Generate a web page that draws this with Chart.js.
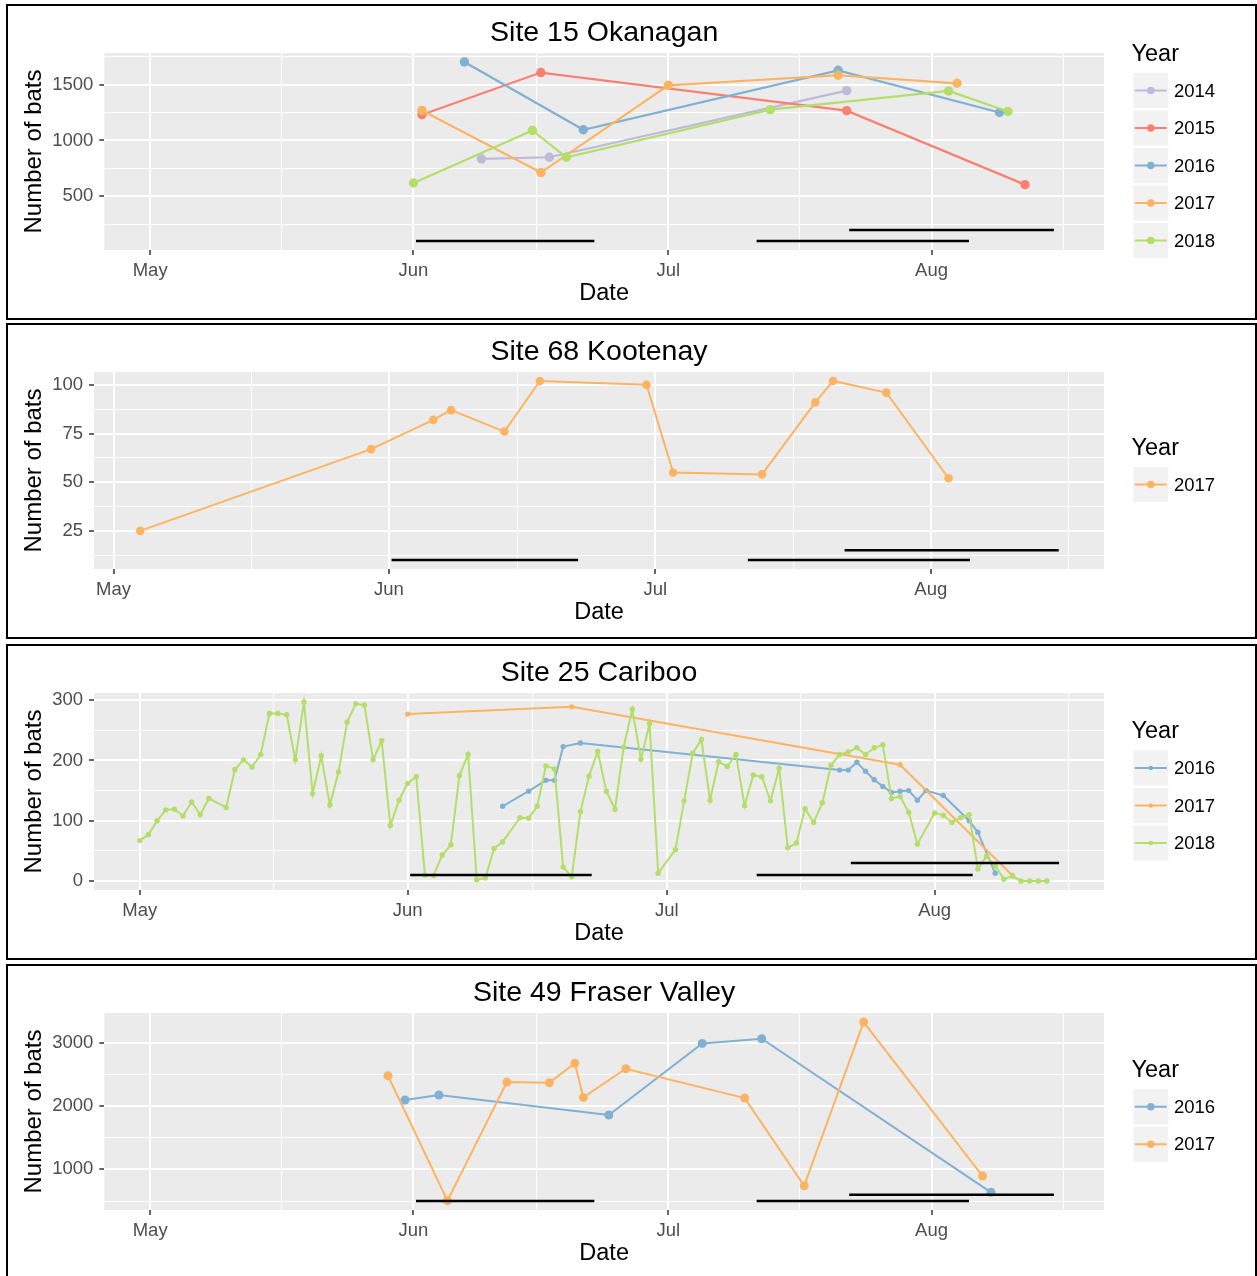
<!DOCTYPE html>
<html>
<head>
<meta charset="utf-8">
<script src="https://cdn.jsdelivr.net/npm/chart.js@4.4.1/dist/chart.umd.min.js"></script>
<style>
  html, body { margin: 0; padding: 0; background: #fff; width: 1257px; height: 1276px; overflow: hidden; }
  .panel { position: absolute; left: 6px; width: 1251px; height: 316px; border: 2px solid #000; box-sizing: border-box; }
  .panel canvas { position: absolute; left: 0; top: 0; }
</style>
</head>
<body>
<div class="panel" style="top:4px"><canvas id="okanagan" width="1247" height="312"></canvas></div>
<div class="panel" style="top:323px"><canvas id="kootenay" width="1247" height="312"></canvas></div>
<div class="panel" style="top:644px"><canvas id="cariboo" width="1247" height="312"></canvas></div>
<div class="panel" style="top:964px"><canvas id="fraser" width="1247" height="312"></canvas></div>
<script>
const FONT = "'Liberation Sans', Arial, sans-serif";

// x values are day of year (May 1 = 121, Jun 1 = 152, Jul 1 = 182, Aug 1 = 213)
const monthTicks = [121, 152, 182, 213];
const monthLabels = ["May", "Jun", "Jul", "Aug"];
const yearColors = { 2014: "#BEBADA", 2015: "#FB8072", 2016: "#80B1D3", 2017: "#FDB462", 2018: "#B3DE69" };

// black period bars (same dates in every panel)
const periodStart = [152.3, 192.4, 203.3];
const periodEnd = [173.3, 217.4, 227.4];

// Site 15 Okanagan
const okanaganDays2014 = [160, 168, 203];
const okanaganBats2014 = [836, 850, 1446];
const okanaganDays2015 = [153, 167, 203, 224];
const okanaganBats2015 = [1231, 1608, 1267, 605];
const okanaganDays2016 = [158, 172, 202, 221];
const okanaganBats2016 = [1703, 1096, 1628, 1251];
const okanaganDays2017 = [153, 167, 182, 202, 216];
const okanaganBats2017 = [1269, 713, 1494, 1584, 1512];
const okanaganDays2018 = [152, 166, 170, 194, 215, 222];
const okanaganBats2018 = [620, 1090, 850, 1276, 1443, 1260];
const okanaganPeriodY = [100, 100, 200];
const okanaganYTicks = [500, 1000, 1500];

// Site 68 Kootenay
const kootenayDays2017 = [124, 150, 157, 159, 165, 169, 181, 184, 194, 200, 202, 208, 215];
const kootenayBats2017 = [25, 67, 82, 87, 76, 102, 100, 55, 54, 91, 102, 96, 52];
const kootenayPeriodY = [10, 10, 15];
const kootenayYTicks = [25, 50, 75, 100];

// Site 25 Cariboo
const caribooDays2016 = [163, 166, 168, 169, 170, 172, 202, 203, 204, 205, 206, 207, 208, 209, 210, 211, 212, 214, 217, 218, 220];
const caribooBats2016 = [124, 149, 167, 167, 223, 229, 184, 184, 197, 182, 168, 157, 147, 149, 150, 134, 150, 142, 100, 81, 13];
const caribooDays2017 = [152, 171, 209, 222];
const caribooBats2017 = [277, 289, 193, 9];
const caribooDays2018 = [121, 122, 123, 124, 125, 126, 127, 128, 129, 131, 132, 133, 134, 135, 136, 137, 138, 139, 140,
  141, 142, 143, 144, 145, 146, 147, 148, 149, 150, 151, 152, 153, 154, 155, 156, 157, 158, 159, 160, 161, 162, 163,
  165, 166, 167, 168, 169, 170, 171, 172, 173, 174, 175, 176, 177, 178, 179, 180, 181, 183, 184, 185, 186, 187, 188,
  189, 190, 191, 192, 193, 194, 195, 196, 197, 198, 199, 200, 201, 202, 203, 204, 205, 206, 207, 208, 209, 210, 211,
  213, 214, 215, 216, 217, 218, 219, 220, 221, 222, 223, 224, 225, 226];
const caribooBats2018 = [67, 77, 100, 118, 119, 108, 131, 110, 137, 122, 185, 201, 189, 210, 278, 278, 276, 201, 297,
  145, 208, 126, 181, 264, 294, 292, 201, 233, 92, 134, 162, 173, 10, 9, 43, 60, 175, 210, 2, 5, 54, 65,
  105, 104, 124, 191, 186, 23, 7, 115, 174, 215, 149, 119, 222, 285, 202, 261, 13, 52, 133, 212, 235, 134, 198,
  190, 210, 125, 176, 173, 133, 187, 55, 63, 120, 97, 130, 192, 210, 214, 221, 210, 221, 226, 137, 140, 114, 61,
  113, 109, 97, 105, 110, 20, 41, 25, 3, 8, 0, 0, 0, 0];
const caribooPeriodY = [10, 10, 30];
const caribooYTicks = [0, 100, 200, 300];

// Site 49 Fraser Valley
const fraserDays2016 = [151, 155, 175, 186, 193, 220];
const fraserBats2016 = [2095, 2174, 1858, 2990, 3063, 637];
const fraserDays2017 = [149, 156, 163, 168, 171, 172, 177, 191, 198, 205, 219];
const fraserBats2017 = [2479, 504, 2379, 2368, 2675, 2137, 2589, 2126, 741, 3327, 894];
const fraserPeriodY = [500, 500, 600];
const fraserYTicks = [1000, 2000, 3000];

// ggplot-style minor breaks halfway between the major ones
function minorBreaks(major) {
  const step = major[1] - major[0];
  return major.map(m => m - step / 2).concat([major[major.length - 1] + step / 2]);
}

// grey panel + title + "Year" legend
const panelDecor = {
  id: "panelDecor",
  beforeDraw(chart) {
    const { ctx, chartArea: a } = chart;
    ctx.save();
    ctx.fillStyle = "#EBEBEB";
    ctx.fillRect(a.left, a.top, a.right - a.left, a.bottom - a.top);
    ctx.restore();
  },
  afterDraw(chart, args, opts) {
    const { ctx, chartArea: a } = chart;
    ctx.save();
    ctx.fillStyle = "#000";
    ctx.textBaseline = "middle";
    ctx.textAlign = "center";
    ctx.font = "28.5px " + FONT;
    ctx.fillText(opts.title, (a.left + a.right) / 2, 27);

    const n = opts.series.length, step = 37.5;
    const k0 = 145.5 - (n - 1) / 2 * step + 14;
    ctx.textAlign = "left";
    ctx.font = "23.5px " + FONT;
    ctx.fillText("Year", 1123.5, k0 - 36);
    ctx.font = "18.5px " + FONT;
    opts.series.forEach((s, i) => {
      const cy = k0 + i * step, kx = 1125.3;
      const col = yearColors[s.year];
      ctx.fillStyle = "#F2F2F2";
      ctx.fillRect(kx, cy - 17.5, 35, 35);
      ctx.strokeStyle = col;
      ctx.lineWidth = opts.lineWidth;
      ctx.beginPath();
      ctx.moveTo(kx + 1.5, cy);
      ctx.lineTo(kx + 33.5, cy);
      ctx.stroke();
      ctx.fillStyle = col;
      ctx.beginPath();
      ctx.arc(kx + 17.5, cy, opts.keyDot, 0, Math.PI * 2);
      ctx.fill();
      ctx.fillStyle = "#000";
      ctx.fillText(String(s.year), 1166, cy + 1);
    });
    ctx.restore();
  }
};

function makePanel(id, p) {
  const isMajorY = v => p.yTicks.includes(v);
  const isMajorX = v => monthTicks.includes(v);

  const datasets = [];
  periodStart.forEach((s, i) => {
    datasets.push({
      data: [{ x: s, y: p.periodY[i] }, { x: periodEnd[i], y: p.periodY[i] }],
      borderColor: "#000", borderWidth: 2.5, pointRadius: 0, order: 0
    });
  });
  p.series.forEach((s, i) => {
    const col = yearColors[s.year];
    datasets.push({
      label: String(s.year),
      data: s.days.map((d, j) => ({ x: d, y: s.bats[j] })),
      borderColor: col, backgroundColor: col,
      borderWidth: p.lineWidth, tension: 0,
      pointRadius: p.pointR, pointBorderWidth: 0, pointBackgroundColor: col,
      order: 10 - i
    });
  });

  new Chart(document.getElementById(id).getContext("2d"), {
    type: "line",
    data: { datasets },
    options: {
      responsive: false,
      animation: false,
      events: [],
      layout: { padding: { left: 12, right: 151, top: 47, bottom: 10 } },
      plugins: {
        legend: { display: false },
        tooltip: { enabled: false },
        panelDecor: { title: p.title, series: p.series, lineWidth: p.lineWidth, keyDot: p.keyDot }
      },
      scales: {
        x: {
          type: "linear",
          min: p.xRange[0], max: p.xRange[1],
          afterBuildTicks: sc => {
            const vals = monthTicks.concat(minorBreaks(monthTicks)).filter(v => v >= sc.min && v <= sc.max);
            sc.ticks = vals.sort((a, b) => a - b).map(v => ({ value: v }));
          },
          afterFit: sc => { sc.height = 58; },
          ticks: {
            autoSkip: false, maxRotation: 0, padding: 4.5,
            color: "#4D4D4D", font: { family: FONT, size: 18.5 },
            callback: v => { const k = monthTicks.indexOf(v); return k >= 0 ? monthLabels[k] : ""; }
          },
          grid: {
            color: "#FFFFFF",
            lineWidth: c => (c.tick && isMajorX(c.tick.value)) ? 2 : 1,
            tickLength: 5, tickWidth: 1.5,
            tickColor: c => (c.tick && isMajorX(c.tick.value)) ? "#333333" : "rgba(0,0,0,0)"
          },
          border: { display: false },
          title: { display: true, text: "Date", color: "#000", font: { family: FONT, size: 23.5 }, padding: 0 }
        },
        y: {
          min: p.yRange[0], max: p.yRange[1],
          afterBuildTicks: sc => {
            const vals = p.yTicks.concat(minorBreaks(p.yTicks)).filter(v => v >= sc.min && v <= sc.max);
            sc.ticks = vals.sort((a, b) => a - b).map(v => ({ value: v }));
          },
          afterFit: sc => { sc.width = p.plotLeft - 12; },
          ticks: {
            padding: 6, color: "#4D4D4D", font: { family: FONT, size: 18.5 },
            callback: v => isMajorY(v) ? String(v) : ""
          },
          grid: {
            color: "#FFFFFF",
            lineWidth: c => (c.tick && isMajorY(c.tick.value)) ? 2 : 1,
            tickLength: 5, tickWidth: 1.5,
            tickColor: c => (c.tick && isMajorY(c.tick.value)) ? "#333333" : "rgba(0,0,0,0)"
          },
          border: { display: false },
          title: { display: true, text: "Number of bats", color: "#000", font: { family: FONT, size: 24 }, padding: 0 }
        }
      }
    },
    plugins: [panelDecor]
  });
}

makePanel("okanagan", {
  title: "Site 15 Okanagan",
  series: [
    { year: 2014, days: okanaganDays2014, bats: okanaganBats2014 },
    { year: 2015, days: okanaganDays2015, bats: okanaganBats2015 },
    { year: 2016, days: okanaganDays2016, bats: okanaganBats2016 },
    { year: 2017, days: okanaganDays2017, bats: okanaganBats2017 },
    { year: 2018, days: okanaganDays2018, bats: okanaganBats2018 }
  ],
  periodY: okanaganPeriodY, yTicks: okanaganYTicks,
  xRange: [115.6, 233.3], yRange: [20, 1783],
  plotLeft: 96.3, lineWidth: 2.2, pointR: 4.7, keyDot: 3.8
});

makePanel("kootenay", {
  title: "Site 68 Kootenay",
  series: [{ year: 2017, days: kootenayDays2017, bats: kootenayBats2017 }],
  periodY: kootenayPeriodY, yTicks: kootenayYTicks,
  xRange: [118.8, 232.5], yRange: [5.4, 106.6],
  plotLeft: 86, lineWidth: 2, pointR: 4.3, keyDot: 3.8
});

makePanel("cariboo", {
  title: "Site 25 Cariboo",
  series: [
    { year: 2016, days: caribooDays2016, bats: caribooBats2016 },
    { year: 2017, days: caribooDays2017, bats: caribooBats2017 },
    { year: 2018, days: caribooDays2018, bats: caribooBats2018 }
  ],
  periodY: caribooPeriodY, yTicks: caribooYTicks,
  xRange: [115.7, 232.6], yRange: [-15, 312],
  plotLeft: 86, lineWidth: 2, pointR: 2.7, keyDot: 2.3
});

makePanel("fraser", {
  title: "Site 49 Fraser Valley",
  series: [
    { year: 2016, days: fraserDays2016, bats: fraserBats2016 },
    { year: 2017, days: fraserDays2017, bats: fraserBats2017 }
  ],
  periodY: fraserPeriodY, yTicks: fraserYTicks,
  xRange: [115.6, 233.3], yRange: [358, 3470],
  plotLeft: 96.3, lineWidth: 2, pointR: 4.5, keyDot: 3.8
});
</script>
</body>
</html>
